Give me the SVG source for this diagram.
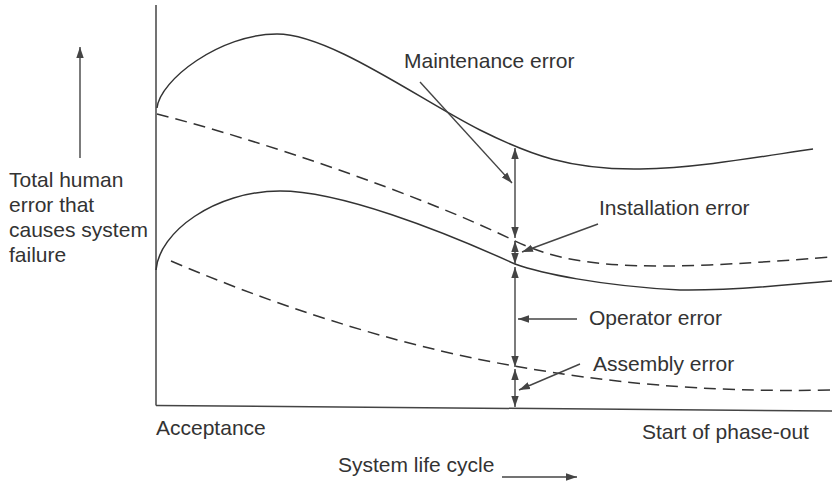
<svg xmlns="http://www.w3.org/2000/svg" width="832" height="487" viewBox="0 0 832 487">
<style>
text{font-family:"Liberation Sans",Arial,sans-serif;font-size:21px;fill:#333}
.ax{stroke:#444;stroke-width:1.5;fill:none}
.cv{stroke:#333;stroke-width:1.5;fill:none}
.ds{stroke:#333;stroke-width:1.5;fill:none;stroke-dasharray:12 7}
.ar{stroke:#444;stroke-width:1.4;fill:none}
</style>
<defs>
<marker id="ah" markerUnits="userSpaceOnUse" markerWidth="13" markerHeight="9" refX="11" refY="4.5" orient="auto-start-reverse" viewBox="0 0 13 9">
<path d="M0,0.8 L11,4.5 L0,8.2 z" fill="#444"/>
</marker>
</defs>
<rect width="832" height="487" fill="#fff"/>
<g id="axes">
<line class="ax" x1="156" y1="5" x2="156" y2="405.5"/>
<line class="ax" x1="156" y1="405.5" x2="832" y2="411"/>
</g>
<g id="curves">
<path id="maintenance-curve" class="cv" d="M157,108 C160,80 220,34 277,34 C330,34 420,100 480,130 C530,155 570,170 640,169 C700,168 770,155 813,149"/>
<path id="installation-curve" class="ds" d="M157,114 C260,140 420,195 513,240 C550,258 590,266 660,266 C720,266 790,260 832,257"/>
<path id="operator-curve" class="cv" d="M156,270 C159,232 215,191 280,191 C340,191 440,230 515,264 C540,273 600,286 680,290 C740,291 790,284 832,281"/>
<path id="assembly-curve" class="ds" d="M171,261 C300,316 420,350 520,367 C600,381 700,393 832,390"/>
</g>
<g id="connectors">
<line id="y-arrow" class="ar" x1="80" y1="158" x2="80" y2="47" marker-end="url(#ah)"/>
<line id="x-arrow" class="ar" x1="502" y1="477" x2="577" y2="477" marker-end="url(#ah)"/>
<line class="ar" x1="515" y1="148" x2="515" y2="238" marker-start="url(#ah)" marker-end="url(#ah)"/>
<line class="ar" x1="515" y1="241" x2="515" y2="264" marker-start="url(#ah)" marker-end="url(#ah)"/>
<line class="ar" x1="515" y1="267" x2="515" y2="367" marker-start="url(#ah)" marker-end="url(#ah)"/>
<line class="ar" x1="515" y1="369" x2="515" y2="407" marker-start="url(#ah)" marker-end="url(#ah)"/>
<line class="ar" x1="420" y1="82" x2="512" y2="183" marker-end="url(#ah)"/>
<line class="ar" x1="598" y1="224" x2="522" y2="252" marker-end="url(#ah)"/>
<line class="ar" x1="577" y1="319" x2="518" y2="319" marker-end="url(#ah)"/>
<line class="ar" x1="580" y1="364" x2="519" y2="390" marker-end="url(#ah)"/>
</g>
<g id="label-maintenance"><text x="404" y="68">Maintenance error</text></g>
<g id="label-installation"><text x="599" y="215">Installation error</text></g>
<g id="label-operator"><text x="589" y="325">Operator error</text></g>
<g id="label-assembly"><text x="593" y="371">Assembly error</text></g>
<g id="label-y">
<text x="9" y="187">Total human</text>
<text x="9" y="212">error that</text>
<text x="9" y="237">causes system</text>
<text x="9" y="262">failure</text>
</g>
<g id="label-acceptance"><text x="156" y="435">Acceptance</text></g>
<g id="label-phaseout"><text x="642" y="439">Start of phase-out</text></g>
<g id="label-x"><text x="338" y="472">System life cycle</text></g>
</svg>
